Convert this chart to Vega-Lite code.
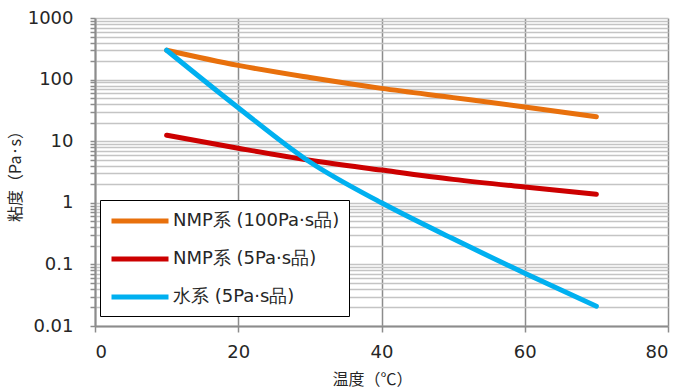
{
  "$schema": "https://vega.github.io/schema/vega-lite/v6.json",
  "autosize": {"type": "none"},
  "padding": {"left": 95, "top": 18, "right": 13, "bottom": 65},
  "width": 573,
  "height": 308,
  "background": "white",
  "config": {
    "view": {"stroke": null},
    "font": "DejaVu Sans"
  },
  "datasets": {
    "lines": [
      {"series": "NMP系 (100Pa·s品)", "temp": 10, "visc": 300},
      {"series": "NMP系 (100Pa·s品)", "temp": 20, "visc": 170},
      {"series": "NMP系 (100Pa·s品)", "temp": 30, "visc": 108},
      {"series": "NMP系 (100Pa·s品)", "temp": 40, "visc": 72},
      {"series": "NMP系 (100Pa·s品)", "temp": 50, "visc": 51},
      {"series": "NMP系 (100Pa·s品)", "temp": 60, "visc": 36},
      {"series": "NMP系 (100Pa·s品)", "temp": 70, "visc": 25},
      {"series": "NMP系 (5Pa·s品)", "temp": 10, "visc": 12.5},
      {"series": "NMP系 (5Pa·s品)", "temp": 20, "visc": 7.7},
      {"series": "NMP系 (5Pa·s品)", "temp": 30, "visc": 4.9},
      {"series": "NMP系 (5Pa·s品)", "temp": 40, "visc": 3.4},
      {"series": "NMP系 (5Pa·s品)", "temp": 50, "visc": 2.4},
      {"series": "NMP系 (5Pa·s品)", "temp": 60, "visc": 1.8},
      {"series": "NMP系 (5Pa·s品)", "temp": 70, "visc": 1.38},
      {"series": "水系 (5Pa·s品)", "temp": 10, "visc": 300},
      {"series": "水系 (5Pa·s品)", "temp": 20, "visc": 35},
      {"series": "水系 (5Pa·s品)", "temp": 30, "visc": 4.6},
      {"series": "水系 (5Pa·s品)", "temp": 40, "visc": 1.0},
      {"series": "水系 (5Pa·s品)", "temp": 50, "visc": 0.26},
      {"series": "水系 (5Pa·s品)", "temp": 60, "visc": 0.072},
      {"series": "水系 (5Pa·s品)", "temp": 70, "visc": 0.021}
    ]
  },
  "layer": [
    {
      "data": {"name": "lines"},
      "mark": {"type": "line", "strokeWidth": 5, "strokeCap": "round", "interpolate": "monotone"},
      "encoding": {
        "x": {
          "field": "temp", "type": "quantitative",
          "scale": {"domain": [0, 80], "nice": false},
          "axis": {
            "values": [0, 20, 40, 60, 80],
            "title": "温度（℃）",
            "titleX": 277, "titleAlign": "center",
            "grid": true, "gridColor": "#8c8c8c", "gridWidth": 1.5,
            "domainColor": "#8c8c8c", "domainWidth": 2,
            "tickColor": "#8c8c8c", "tickSize": 6, "tickWidth": 1.5,
            "labelFontSize": 18, "labelColor": "#262626", "labelPadding": 11,
            "titleFontSize": 16, "titleFontWeight": "normal", "titleColor": "#262626", "titlePadding": 10,
            "labelFont": "DejaVu Sans", "titleFont": "Noto Sans CJK JP"
          }
        },
        "y": {
          "field": "visc", "type": "quantitative",
          "scale": {"type": "log", "domain": [0.01, 1000], "nice": false},
          "axis": {
            "values": [0.01,0.02,0.03,0.04,0.05,0.06,0.07,0.08,0.09,0.1,0.2,0.3,0.4,0.5,0.6,0.7,0.8,0.9,1,2,3,4,5,6,7,8,9,10,20,30,40,50,60,70,80,90,100,200,300,400,500,600,700,800,900,1000],
            "format": "~g",
            "labelExpr": "indexof(['0.01','0.1','1','10','100','1000'], datum.label) >= 0 ? datum.label : ''",
            "labelOverlap": false,
            "title": "粘度（Pa·s）",
            "grid": true, "gridColor": "#c4c4c4", "gridWidth": 1.5,
            "domainColor": "#8c8c8c", "domainWidth": 2,
            "tickColor": "#8c8c8c", "tickSize": 5, "tickWidth": 1.5,
            "labelFontSize": 18, "labelColor": "#262626", "labelPadding": 17,
            "titleFontSize": 16, "titleFontWeight": "normal", "titleColor": "#262626", "titlePadding": 4,
            "labelFont": "DejaVu Sans", "titleFont": "Noto Sans CJK JP"
          }
        },
        "color": {
          "field": "series", "type": "nominal",
          "scale": {
            "domain": ["NMP系 (100Pa·s品)", "NMP系 (5Pa·s品)", "水系 (5Pa·s品)"],
            "range": ["#E8700C", "#CC0000", "#00B0F0"]
          },
          "legend": {
            "title": null,
            "orient": "none",
            "legendX": 5,
            "legendY": 182,
            "fillColor": "white",
            "strokeColor": "black",
            "padding": 9,
            "symbolType": "M-1,0H5",
            "symbolStrokeWidth": 5,
            "symbolSize": 361,
            "labelFontSize": 18,
            "labelFont": "DejaVu Sans",
            "labelColor": "#262626",
            "labelOffset": 40,
            "rowPadding": 16,
            "labelLimit": 300
          }
        }
      }
    },
    {
      "mark": {"type": "rule", "color": "black", "strokeWidth": 2},
      "encoding": {"y": {"datum": 1000}}
    },
    {
      "mark": {"type": "rule", "color": "black", "strokeWidth": 1.5},
      "encoding": {"x": {"datum": 80}}
    }
  ]
}
